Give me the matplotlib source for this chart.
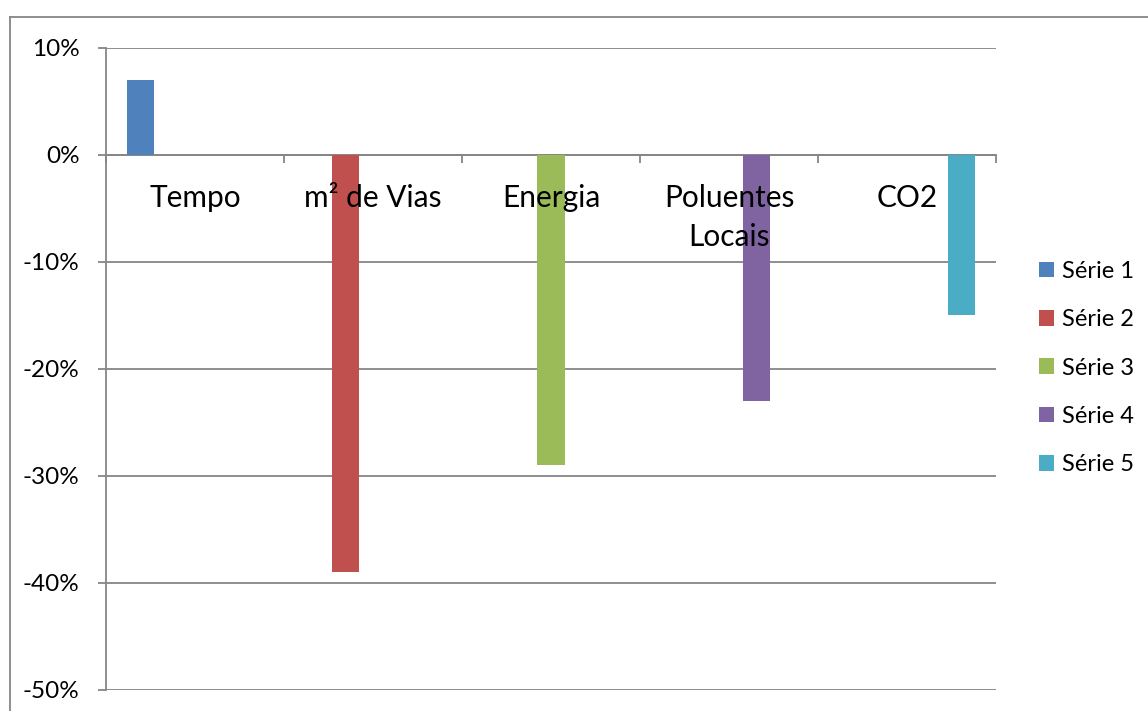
import numpy as np
import matplotlib
matplotlib.use('Agg')
import matplotlib.pyplot as plt
from matplotlib.lines import Line2D
from matplotlib.ticker import FuncFormatter, MultipleLocator

nan = np.nan
categories = ['Tempo', 'm² de Vias', 'Energia', 'Poluentes\nLocais', 'CO2']
series_names = ['Série 1', 'Série 2', 'Série 3', 'Série 4', 'Série 5']
serie_1 = [7, nan, nan, nan, nan]
serie_2 = [nan, -39, nan, nan, nan]
serie_3 = [nan, nan, -29, nan, nan]
serie_4 = [nan, nan, nan, -23, nan]
serie_5 = [nan, nan, nan, nan, -15]
colors = ['#4F81BD', '#C0504D', '#9BBB59', '#8064A2', '#4BACC6']

plt.rcParams['font.family'] = ['Lato', 'DejaVu Sans']
grey = '#868686'

fig = plt.figure(figsize=(11.48, 7.11), dpi=100)
ax = fig.add_axes([106 / 1148, 1 - 690 / 711, 890 / 1148, (690 - 47.7) / 711])

# outer chart frame (only left and top visible in the crop)
fig.add_artist(Line2D([10 / 1148, 10 / 1148], [0, 1 - 17 / 711], color=grey, lw=1.3, transform=fig.transFigure))
fig.add_artist(Line2D([10 / 1148, 1], [1 - 17 / 711, 1 - 17 / 711], color=grey, lw=1.3, transform=fig.transFigure))

x = np.arange(len(categories)) + 0.5
w = 1 / 6.5
all_series = [serie_1, serie_2, serie_3, serie_4, serie_5]
for i, (vals, name) in enumerate(zip(all_series, series_names)):
    ax.bar(x + (i - 2) * w, vals, w, color=colors[i], label=name, zorder=3)

ax.set_xlim(0, len(categories))
ax.set_ylim(-50, 10)
ax.yaxis.set_major_locator(MultipleLocator(10))
ax.yaxis.set_major_formatter(FuncFormatter(lambda v, p: '%d%%' % round(v)))
ax.grid(axis='y', color=grey, lw=1.3)
ax.set_axisbelow(True)

for s in ['top', 'right']:
    ax.spines[s].set_visible(False)
ax.spines['left'].set_color(grey)
ax.spines['left'].set_linewidth(1.3)
ax.spines['bottom'].set_position(('data', 0))
ax.spines['bottom'].set_color(grey)
ax.spines['bottom'].set_linewidth(1.3)

# category labels drawn on top of the bars
ax.set_xticks(np.arange(len(categories) + 1))
ax.set_xticklabels([])
ax.tick_params(axis='x', length=6, color=grey, width=1.3, direction='out')
for xc, lab in zip(x, categories):
    ax.annotate(lab, (xc, 0), xytext=(0, -29), textcoords='offset pixels', ha='center', va='top',
                fontsize=21.5, linespacing=1.48, zorder=5)

ax.tick_params(axis='y', length=6, color=grey, width=1.3, pad=13, labelsize=17.5)

ax.legend(loc='center left', bbox_to_anchor=(1027 / 1148, 1 - 368 / 711), bbox_transform=fig.transFigure,
          frameon=False, fontsize=17, handlelength=0.65, handleheight=0.65, handletextpad=0.35,
          labelspacing=1.16, borderpad=0)

fig.savefig('out.png', dpi=100)
